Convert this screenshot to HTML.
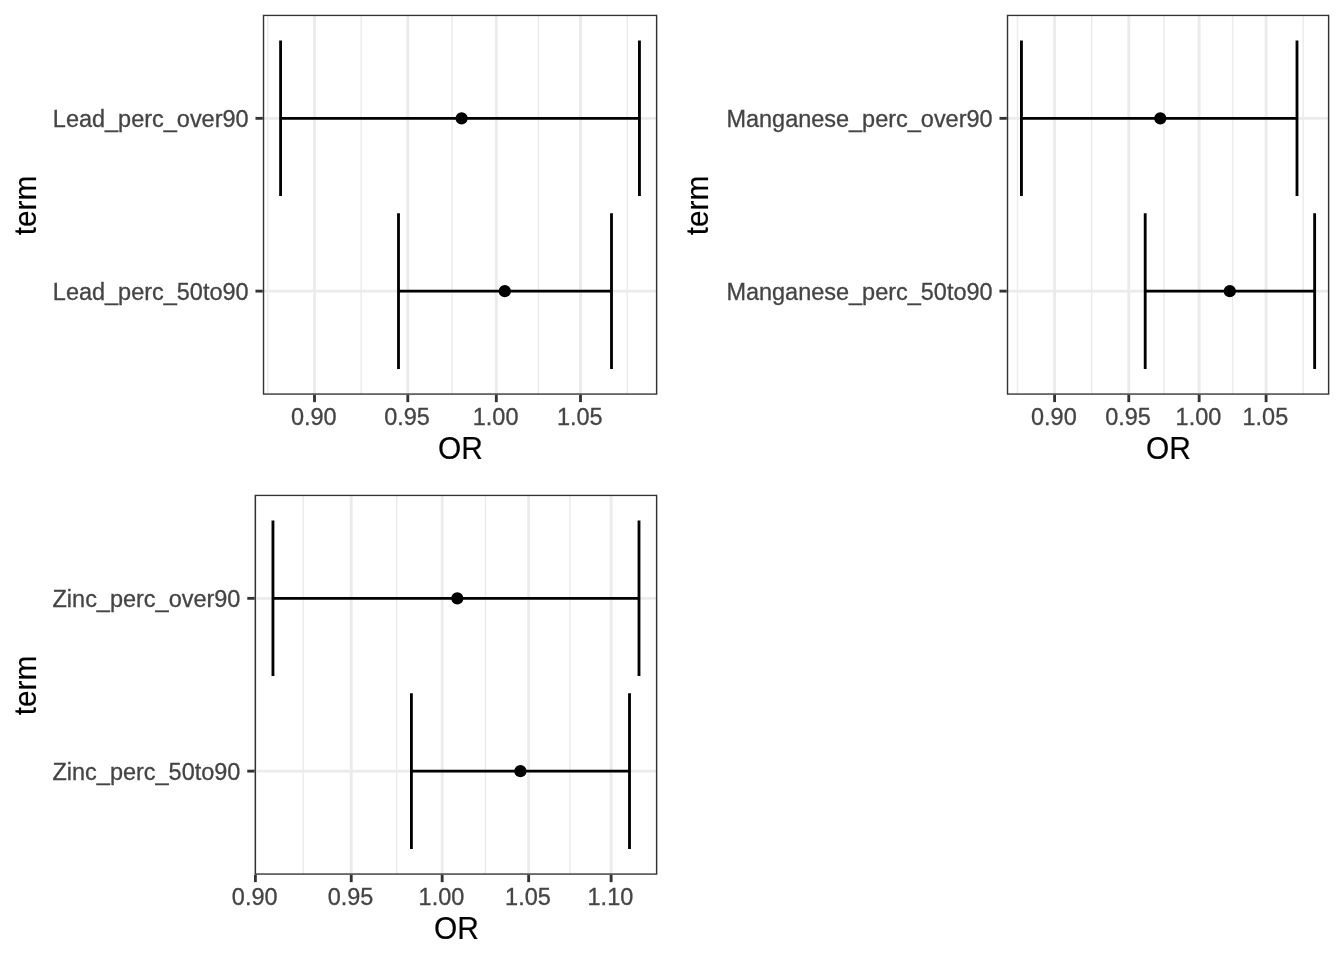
<!DOCTYPE html>
<html lang="en">
<head>
<meta charset="utf-8">
<title>OR forest plots</title>
<style>
html,body{margin:0;padding:0;background:#fff;}
body{width:1344px;height:960px;overflow:hidden;}
svg{display:block;will-change:transform;}
text{font-family:"Liberation Sans",Arial,Helvetica,sans-serif;}
.a{font-size:23.47px;fill:#444;stroke:#444;stroke-width:0.3px;}
.t{font-size:29.33px;fill:#000;stroke:#000;stroke-width:0.15px;}
</style>
</head>
<body>
<svg width="1344" height="960" viewBox="0 0 1344 960">
<rect width="1344" height="960" fill="#fff"/>
<g>
<clipPath id="c0_0"><rect x="262.80" y="14.67" width="394.53" height="380.13"/></clipPath>
<g clip-path="url(#c0_0)">
<line x1="267.85" x2="267.85" y1="14.67" y2="394.80" stroke="#ebebeb" stroke-width="1.42"/>
<line x1="361.15" x2="361.15" y1="14.67" y2="394.80" stroke="#ebebeb" stroke-width="1.42"/>
<line x1="452.05" x2="452.05" y1="14.67" y2="394.80" stroke="#ebebeb" stroke-width="1.42"/>
<line x1="538.41" x2="538.41" y1="14.67" y2="394.80" stroke="#ebebeb" stroke-width="1.42"/>
<line x1="627.15" x2="627.15" y1="14.67" y2="394.80" stroke="#ebebeb" stroke-width="1.42"/>
<line x1="314.50" x2="314.50" y1="14.67" y2="394.80" stroke="#ebebeb" stroke-width="2.85"/>
<line x1="407.80" x2="407.80" y1="14.67" y2="394.80" stroke="#ebebeb" stroke-width="2.85"/>
<line x1="496.31" x2="496.31" y1="14.67" y2="394.80" stroke="#ebebeb" stroke-width="2.85"/>
<line x1="580.50" x2="580.50" y1="14.67" y2="394.80" stroke="#ebebeb" stroke-width="2.85"/>
<line x1="262.80" x2="657.33" y1="118.34" y2="118.34" stroke="#ebebeb" stroke-width="2.85"/>
<line x1="262.80" x2="657.33" y1="291.13" y2="291.13" stroke="#ebebeb" stroke-width="2.85"/>
<path d="M639.45 40.58V196.09M639.45 118.34H280.60M280.60 40.58V196.09" stroke="#000" stroke-width="2.85" fill="none"/>
<path d="M611.50 213.37V368.88M611.50 291.13H398.50M398.50 213.37V368.88" stroke="#000" stroke-width="2.85" fill="none"/>
<circle cx="461.60" cy="118.34" r="6.1" fill="#000"/>
<circle cx="504.80" cy="291.13" r="6.1" fill="#000"/>
<rect x="262.80" y="14.67" width="394.53" height="380.13" fill="none" stroke="#333" stroke-width="2.85"/>
</g>
<line x1="314.50" x2="314.50" y1="394.80" y2="402.13" stroke="#333" stroke-width="2.85"/>
<text class="a" x="313.80" y="424.90" text-anchor="middle">0.90</text>
<line x1="407.80" x2="407.80" y1="394.80" y2="402.13" stroke="#333" stroke-width="2.85"/>
<text class="a" x="407.10" y="424.90" text-anchor="middle">0.95</text>
<line x1="496.31" x2="496.31" y1="394.80" y2="402.13" stroke="#333" stroke-width="2.85"/>
<text class="a" x="495.61" y="424.90" text-anchor="middle">1.00</text>
<line x1="580.50" x2="580.50" y1="394.80" y2="402.13" stroke="#333" stroke-width="2.85"/>
<text class="a" x="579.80" y="424.90" text-anchor="middle">1.05</text>
<line x1="255.47" x2="262.80" y1="118.34" y2="118.34" stroke="#333" stroke-width="2.85"/>
<text class="a" x="248.60" y="126.74" text-anchor="end">Lead_perc_over90</text>
<line x1="255.47" x2="262.80" y1="291.13" y2="291.13" stroke="#333" stroke-width="2.85"/>
<text class="a" x="248.60" y="299.53" text-anchor="end">Lead_perc_50to90</text>
<text class="t" transform="translate(460.47 459.00) scale(1.02 1.05)" text-anchor="middle">OR</text>
<text class="t" transform="translate(36.10 205.53) rotate(-90) scale(1.015 1.05)" text-anchor="middle">term</text>
</g>
<g>
<clipPath id="c672_0"><rect x="1006.80" y="14.67" width="322.53" height="380.13"/></clipPath>
<g clip-path="url(#c672_0)">
<line x1="1017.51" x2="1017.51" y1="14.67" y2="394.80" stroke="#ebebeb" stroke-width="1.42"/>
<line x1="1091.69" x2="1091.69" y1="14.67" y2="394.80" stroke="#ebebeb" stroke-width="1.42"/>
<line x1="1163.97" x2="1163.97" y1="14.67" y2="394.80" stroke="#ebebeb" stroke-width="1.42"/>
<line x1="1232.62" x2="1232.62" y1="14.67" y2="394.80" stroke="#ebebeb" stroke-width="1.42"/>
<line x1="1303.18" x2="1303.18" y1="14.67" y2="394.80" stroke="#ebebeb" stroke-width="1.42"/>
<line x1="1054.60" x2="1054.60" y1="14.67" y2="394.80" stroke="#ebebeb" stroke-width="2.85"/>
<line x1="1128.78" x2="1128.78" y1="14.67" y2="394.80" stroke="#ebebeb" stroke-width="2.85"/>
<line x1="1199.15" x2="1199.15" y1="14.67" y2="394.80" stroke="#ebebeb" stroke-width="2.85"/>
<line x1="1266.09" x2="1266.09" y1="14.67" y2="394.80" stroke="#ebebeb" stroke-width="2.85"/>
<line x1="1006.80" x2="1329.33" y1="118.34" y2="118.34" stroke="#ebebeb" stroke-width="2.85"/>
<line x1="1006.80" x2="1329.33" y1="291.13" y2="291.13" stroke="#ebebeb" stroke-width="2.85"/>
<path d="M1297.00 40.58V196.09M1297.00 118.34H1021.45M1021.45 40.58V196.09" stroke="#000" stroke-width="2.85" fill="none"/>
<path d="M1314.65 213.37V368.88M1314.65 291.13H1145.20M1145.20 213.37V368.88" stroke="#000" stroke-width="2.85" fill="none"/>
<circle cx="1160.30" cy="118.34" r="6.1" fill="#000"/>
<circle cx="1229.80" cy="291.13" r="6.1" fill="#000"/>
<rect x="1006.80" y="14.67" width="322.53" height="380.13" fill="none" stroke="#333" stroke-width="2.85"/>
</g>
<line x1="1054.60" x2="1054.60" y1="394.80" y2="402.13" stroke="#333" stroke-width="2.85"/>
<text class="a" x="1053.90" y="424.90" text-anchor="middle">0.90</text>
<line x1="1128.78" x2="1128.78" y1="394.80" y2="402.13" stroke="#333" stroke-width="2.85"/>
<text class="a" x="1128.08" y="424.90" text-anchor="middle">0.95</text>
<line x1="1199.15" x2="1199.15" y1="394.80" y2="402.13" stroke="#333" stroke-width="2.85"/>
<text class="a" x="1198.45" y="424.90" text-anchor="middle">1.00</text>
<line x1="1266.09" x2="1266.09" y1="394.80" y2="402.13" stroke="#333" stroke-width="2.85"/>
<text class="a" x="1265.39" y="424.90" text-anchor="middle">1.05</text>
<line x1="999.47" x2="1006.80" y1="118.34" y2="118.34" stroke="#333" stroke-width="2.85"/>
<text class="a" x="992.60" y="126.74" text-anchor="end">Manganese_perc_over90</text>
<line x1="999.47" x2="1006.80" y1="291.13" y2="291.13" stroke="#333" stroke-width="2.85"/>
<text class="a" x="992.60" y="299.53" text-anchor="end">Manganese_perc_50to90</text>
<text class="t" transform="translate(1168.47 459.00) scale(1.02 1.05)" text-anchor="middle">OR</text>
<text class="t" transform="translate(708.10 205.53) rotate(-90) scale(1.015 1.05)" text-anchor="middle">term</text>
</g>
<g>
<clipPath id="c0_480"><rect x="254.60" y="494.67" width="402.73" height="380.13"/></clipPath>
<g clip-path="url(#c0_480)">
<line x1="303.32" x2="303.32" y1="494.67" y2="874.80" stroke="#ebebeb" stroke-width="1.42"/>
<line x1="396.70" x2="396.70" y1="494.67" y2="874.80" stroke="#ebebeb" stroke-width="1.42"/>
<line x1="485.40" x2="485.40" y1="494.67" y2="874.80" stroke="#ebebeb" stroke-width="1.42"/>
<line x1="569.88" x2="569.88" y1="494.67" y2="874.80" stroke="#ebebeb" stroke-width="1.42"/>
<line x1="255.40" x2="255.40" y1="494.67" y2="874.80" stroke="#ebebeb" stroke-width="2.85"/>
<line x1="351.24" x2="351.24" y1="494.67" y2="874.80" stroke="#ebebeb" stroke-width="2.85"/>
<line x1="442.16" x2="442.16" y1="494.67" y2="874.80" stroke="#ebebeb" stroke-width="2.85"/>
<line x1="528.65" x2="528.65" y1="494.67" y2="874.80" stroke="#ebebeb" stroke-width="2.85"/>
<line x1="611.11" x2="611.11" y1="494.67" y2="874.80" stroke="#ebebeb" stroke-width="2.85"/>
<line x1="254.60" x2="657.33" y1="598.34" y2="598.34" stroke="#ebebeb" stroke-width="2.85"/>
<line x1="254.60" x2="657.33" y1="771.13" y2="771.13" stroke="#ebebeb" stroke-width="2.85"/>
<path d="M639.00 520.58V676.09M639.00 598.34H272.95M272.95 520.58V676.09" stroke="#000" stroke-width="2.85" fill="none"/>
<path d="M629.50 693.37V848.88M629.50 771.13H411.40M411.40 693.37V848.88" stroke="#000" stroke-width="2.85" fill="none"/>
<circle cx="457.30" cy="598.34" r="6.1" fill="#000"/>
<circle cx="520.40" cy="771.13" r="6.1" fill="#000"/>
<rect x="254.60" y="494.67" width="402.73" height="380.13" fill="none" stroke="#333" stroke-width="2.85"/>
</g>
<line x1="255.40" x2="255.40" y1="874.80" y2="882.13" stroke="#333" stroke-width="2.85"/>
<text class="a" x="254.70" y="904.90" text-anchor="middle">0.90</text>
<line x1="351.24" x2="351.24" y1="874.80" y2="882.13" stroke="#333" stroke-width="2.85"/>
<text class="a" x="350.54" y="904.90" text-anchor="middle">0.95</text>
<line x1="442.16" x2="442.16" y1="874.80" y2="882.13" stroke="#333" stroke-width="2.85"/>
<text class="a" x="441.46" y="904.90" text-anchor="middle">1.00</text>
<line x1="528.65" x2="528.65" y1="874.80" y2="882.13" stroke="#333" stroke-width="2.85"/>
<text class="a" x="527.95" y="904.90" text-anchor="middle">1.05</text>
<line x1="611.11" x2="611.11" y1="874.80" y2="882.13" stroke="#333" stroke-width="2.85"/>
<text class="a" x="610.41" y="904.90" text-anchor="middle">1.10</text>
<line x1="247.27" x2="254.60" y1="598.34" y2="598.34" stroke="#333" stroke-width="2.85"/>
<text class="a" x="240.40" y="606.74" text-anchor="end">Zinc_perc_over90</text>
<line x1="247.27" x2="254.60" y1="771.13" y2="771.13" stroke="#333" stroke-width="2.85"/>
<text class="a" x="240.40" y="779.53" text-anchor="end">Zinc_perc_50to90</text>
<text class="t" transform="translate(456.37 939.00) scale(1.02 1.05)" text-anchor="middle">OR</text>
<text class="t" transform="translate(36.10 685.53) rotate(-90) scale(1.015 1.05)" text-anchor="middle">term</text>
</g>
</svg>
</body>
</html>
